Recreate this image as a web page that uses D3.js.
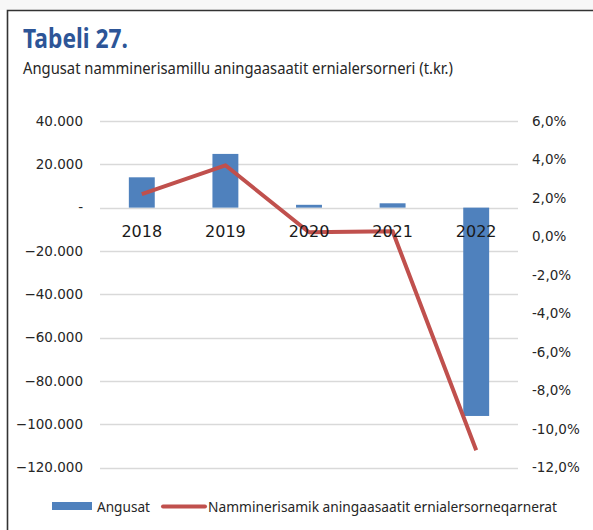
<!DOCTYPE html>
<html>
<head>
<meta charset="utf-8">
<script src="https://cdn.jsdelivr.net/npm/d3@7"></script>
<style>
  html, body { margin: 0; padding: 0; background: #fff; }
  svg { display: block; }
</style>
</head>
<body>
<script>
const years = ["2018", "2019", "2020", "2021", "2022"];
const angusat = [14000, 24800, 1300, 2000, -96200];
const rate = [0.022, 0.037, 0.0022, 0.0027, -0.111];
const leftTicks = [40000, 20000, 0, -20000, -40000, -60000, -80000, -100000, -120000];
const rightTicks = [0.06, 0.04, 0.02, 0, -0.02, -0.04, -0.06, -0.08, -0.10, -0.12];

const W = 593, H = 530;
const plot = { left: 100, right: 518, top: 121, bottom: 467.5 };

const svg = d3.select("body").append("svg")
  .attr("width", W).attr("height", H);

// frame
svg.append("rect").attr("width", W).attr("height", 10).attr("fill", "#f7f7f7");
svg.append("path")
  .attr("d", `M7.5,${H} V10.5 H${W}`)
  .attr("fill", "none").attr("stroke", "#333").attr("stroke-width", 1.6);

svg.append("text")
  .attr("x", 23).attr("y", 47.5)
  .attr("font-family", "'Noto Sans', sans-serif")
  .attr("font-weight", 700).attr("font-size", 27)
  .attr("fill", "#2D5597")
  .attr("textLength", 105).attr("lengthAdjust", "spacingAndGlyphs")
  .text("Tabeli 27.");

svg.append("text")
  .attr("x", 23).attr("y", 74)
  .attr("font-family", "'Noto Sans', sans-serif")
  .attr("font-size", 17).attr("fill", "#262626")
  .attr("textLength", 430).attr("lengthAdjust", "spacingAndGlyphs")
  .text("Angusat namminerisamillu aningaasaatit ernialersorneri (t.kr.)");

const x = d3.scaleBand().domain(years).range([plot.left, plot.right]).paddingInner(0.69).paddingOuter(0.345);
const yL = d3.scaleLinear().domain([-120000, 40000]).range([plot.bottom, plot.top]);
const yR = d3.scaleLinear().domain([-0.12, 0.06]).range([plot.bottom, plot.top]);

const fmtL = v => v === 0 ? "-" : d3.format(",")(v).replace(/,/g, ".");
const fmtR = v => d3.format(".1%")(v).replace(".", ",").replace("−", "-");

// gridlines
svg.append("g").selectAll("line").data(leftTicks).join("line")
  .attr("x1", plot.left).attr("x2", plot.right)
  .attr("y1", d => Math.round(yL(d)) + 0.5).attr("y2", d => Math.round(yL(d)) + 0.5)
  .attr("stroke", "#d9d9d9").attr("stroke-width", 1.3);

const axisFont = "'DejaVu Sans', sans-serif";

svg.append("g").selectAll("text").data(leftTicks).join("text")
  .attr("x", 83).attr("y", d => yL(d)).attr("dy", "0.36em")
  .attr("text-anchor", "end")
  .attr("font-family", axisFont).attr("font-size", 13.5).attr("fill", "#262626")
  .text(fmtL);

svg.append("g").selectAll("text").data(rightTicks).join("text")
  .attr("x", 532).attr("y", d => yR(d)).attr("dy", "0.36em")
  .attr("font-family", axisFont).attr("font-size", 13.5).attr("fill", "#262626")
  .text(fmtR);

// bars
svg.append("g").selectAll("rect").data(angusat).join("rect")
  .attr("x", (d, i) => x(years[i]))
  .attr("width", x.bandwidth())
  .attr("y", d => Math.min(yL(d), yL(0)))
  .attr("height", d => Math.abs(yL(d) - yL(0)))
  .attr("fill", "#4F81BD");

// line
const line = d3.line()
  .x((d, i) => x(years[i]) + x.bandwidth() / 2)
  .y(d => yR(d));
svg.append("path").datum(rate)
  .attr("d", line)
  .attr("fill", "none").attr("stroke", "#C0504D")
  .attr("stroke-width", 4).attr("stroke-linejoin", "round");

// category labels
svg.append("g").selectAll("text").data(years).join("text")
  .attr("x", d => x(d) + x.bandwidth() / 2).attr("y", 236.5)
  .attr("text-anchor", "middle")
  .attr("font-family", axisFont).attr("font-size", 16).attr("fill", "#1a1a1a")
  .text(d => d);

// legend
const lg = svg.append("g").attr("font-family", "'Noto Sans', sans-serif").attr("font-size", 14.5).attr("fill", "#262626");
lg.append("rect").attr("x", 52).attr("y", 502).attr("width", 40).attr("height", 8).attr("fill", "#4F81BD");
lg.append("text").attr("x", 97).attr("y", 511.5)
  .attr("textLength", 53).attr("lengthAdjust", "spacingAndGlyphs").text("Angusat");
lg.append("line").attr("x1", 163).attr("x2", 205).attr("y1", 506.5).attr("y2", 506.5)
  .attr("stroke", "#C0504D").attr("stroke-width", 4).attr("stroke-linecap", "round");
lg.append("text").attr("x", 208).attr("y", 511.5)
  .attr("textLength", 349).attr("lengthAdjust", "spacingAndGlyphs")
  .text("Namminerisamik aningaasaatit ernialersorneqarnerat");
</script>
</body>
</html>
